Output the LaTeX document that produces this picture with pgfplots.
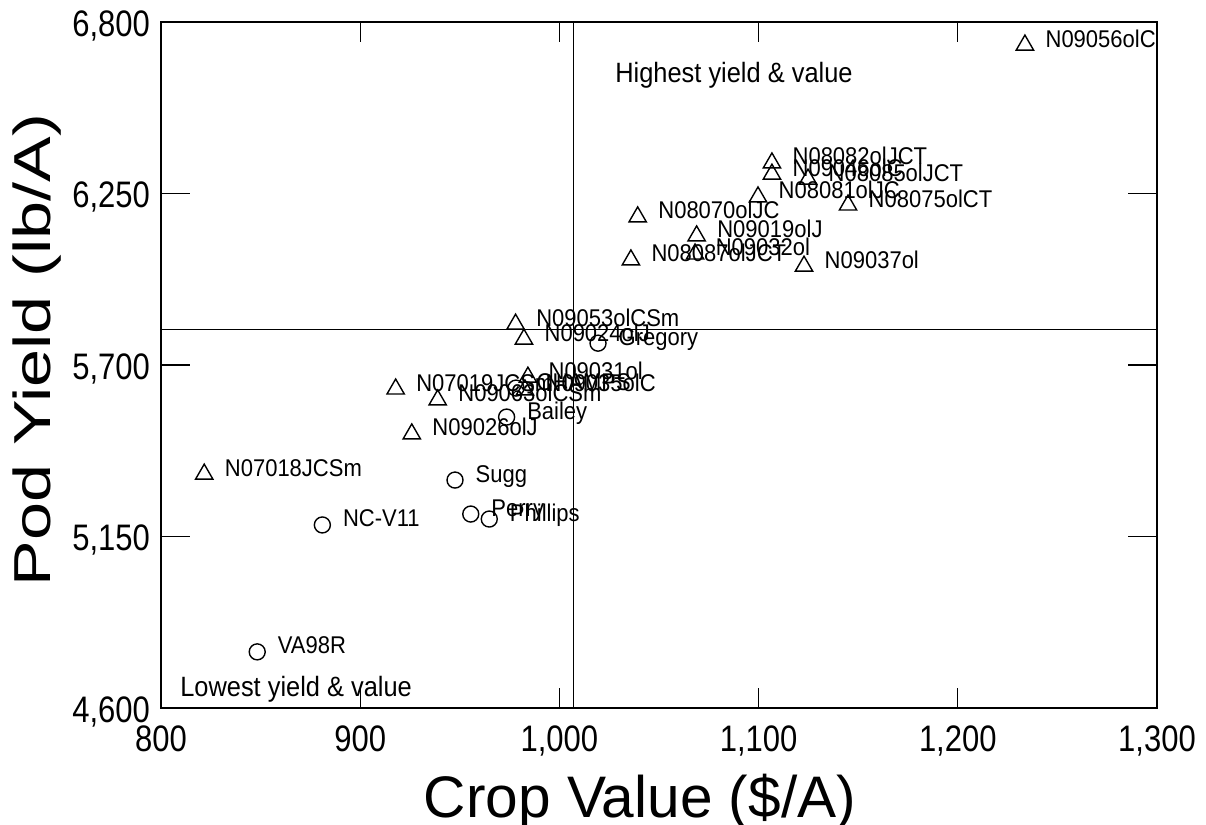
\documentclass[border=0pt]{standalone}
\usepackage{pgfplots}
\pgfplotsset{compat=1.18}
\usepackage{fontspec}
\setmainfont{Liberation Sans}

% breeding lines (triangles)
\pgfplotstableread{
x y name
1233.7 6726 N09056olC
1106.7 6348 N08082olJCT
1106.7 6312 N09046olC
1124.8 6296 N08085olJCT
1099.7 6239 N08081olJC
1144.9 6213 N08075olCT
1039.3 6175 N08070olJC
1068.9 6114 N09019olJ
1068.1 6056 N09032ol
1035.9 6037 N08087olJCT
1122.8 6017 N09037ol
978.0 5831 N09053olCSm
982.2 5783 N09024olJ
917.8 5623 N07019JCSm
938.9 5588 N09063olCSm
925.9 5479 N09026olJ
821.7 5350 N07018JCSm
984.2 5661 N09031ol
982.7 5620 N09035olC
}\lines

% released cultivars (circles)
\pgfplotstableread{
x y name
1019.4 5770 Gregory
973.5 5533 Bailey
947.6 5331 Sugg
955.5 5222 Perry
964.8 5206 Phillips
881.0 5187 NC-V11
848.3 4780 VA98R
978.2 5626 CHAMPS
}\cultivars

\begin{document}
\begin{tikzpicture}
\useasboundingbox (0,0) rectangle (603pt,412.5pt);
\begin{axis}[
  at={(80.5pt,58.5pt)}, anchor=south west,
  width=498pt, height=343pt, scale only axis,
  xmin=800, xmax=1300, ymin=4600, ymax=6800,
  xtick={800,900,...,1300}, ytick={4600,5150,5700,6250,6800},
  tick align=inside,
  major tick length=10pt,
  ytick style={/pgfplots/major tick length=14.5pt},
  axis line style={line width=0.9pt},
  tick style={line width=0.6pt, black},
  /pgf/number format/1000 sep={,},
  /pgf/number format/assume math mode=true,
  tick label style={font=\fontsize{15.5}{16}\selectfont, yscale=1.19},
  xticklabel style={yshift=-4pt},
  yticklabel style={xshift=-2pt, yshift=-1.5pt},
  clip=false,
  nodes near coords,
  point meta=explicit symbolic,
  every node near coord/.append style={anchor=base west, xshift=10pt, yshift=-1pt,
    font=\fontsize{11}{12}\selectfont, yscale=1.1, inner sep=0pt, text=black},
]
% quadrant dividers
\draw[line width=0.6pt] (axis cs:1007,4600) -- (axis cs:1007,6800);
\draw[line width=0.6pt] (axis cs:800,5815) -- (axis cs:1300,5815);

\addplot[only marks, mark=triangle, mark size=5pt, mark options={line width=0.7pt, black}]
  table[x=x, y=y, meta=name] {\lines};
\addplot[only marks, mark=o, mark size=4pt, mark options={line width=0.7pt, black}]
  table[x=x, y=y, meta=name] {\cultivars};

\node[anchor=west, font=\fontsize{12.7}{14}\selectfont, yscale=1.1, inner sep=0pt]
  at (axis cs:1027.9,6630) {Highest yield \& value};
\node[anchor=west, font=\fontsize{12.7}{14}\selectfont, yscale=1.1, inner sep=0pt]
  at (axis cs:809.5,4661) {Lowest yield \& value};
\end{axis}
\node[anchor=base, font=\fontsize{29.3}{31}\selectfont, inner sep=0pt] at (320pt,3.5pt) {Crop Value (\$/A)};
\node[anchor=base, rotate=90, xscale=1.315, font=\fontsize{26}{28}\selectfont, inner sep=0pt] at (25pt,237.5pt) {Pod Yield (lb/A)};
\end{tikzpicture}
\end{document}
